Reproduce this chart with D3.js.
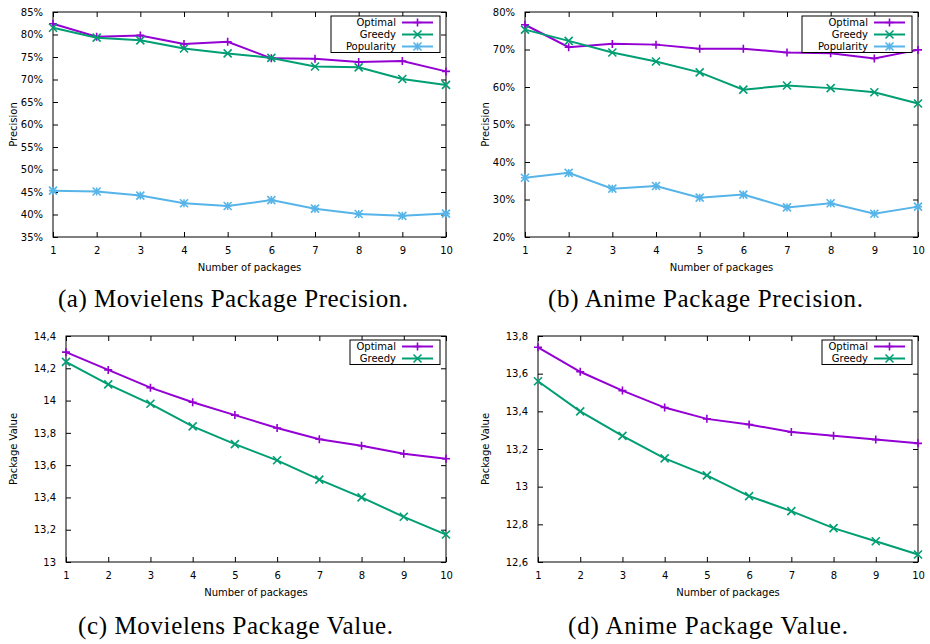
<!DOCTYPE html>
<html><head><meta charset="utf-8">
<script src="https://cdn.jsdelivr.net/npm/d3@7"></script>
<style>
body{margin:0;background:#fff;}
svg{display:block;}
</style></head>
<body>
<svg id="chart" width="930" height="644"></svg>
<script>
const packages = [1,2,3,4,5,6,7,8,9,10];

const movPrecOptimal    = [82.4,79.5,79.8,77.9,78.4,74.7,74.6,73.9,74.1,71.8];
const movPrecGreedy     = [81.5,79.3,78.7,76.9,75.8,74.8,72.9,72.7,70.1,68.8];
const movPrecPopularity = [45.3,45.1,44.2,42.5,41.9,43.2,41.3,40.1,39.7,40.2];

const aniPrecOptimal    = [76.6,70.6,71.5,71.3,70.2,70.2,69.2,69.0,67.6,69.9];
const aniPrecGreedy     = [75.3,72.3,69.2,66.8,63.9,59.3,60.4,59.7,58.6,55.6];
const aniPrecPopularity = [35.8,37.1,32.9,33.6,30.5,31.3,27.9,29.0,26.2,28.1];

const movValOptimal = [14.30,14.19,14.08,13.99,13.91,13.83,13.76,13.72,13.67,13.64];
const movValGreedy  = [14.24,14.10,13.98,13.84,13.73,13.63,13.51,13.40,13.28,13.17];

const aniValOptimal = [13.74,13.61,13.51,13.42,13.36,13.33,13.29,13.27,13.25,13.23];
const aniValGreedy  = [13.56,13.40,13.27,13.15,13.06,12.95,12.87,12.78,12.71,12.64];

const movPrecTicks = [35,40,45,50,55,60,65,70,75,80,85];
const aniPrecTicks = [20,30,40,50,60,70,80];
const movValTicks  = [13,13.2,13.4,13.6,13.8,14,14.2,14.4];
const aniValTicks  = [12.6,12.8,13,13.2,13.4,13.6,13.8];

const seriesNames = ["Optimal","Greedy","Popularity"];
const captions = ["(a) Movielens Package Precision.","(b) Anime Package Precision.","(c) Movielens Package Value.","(d) Anime Package Value."];

const colors = {Optimal:"#9400d3", Greedy:"#009e73", Popularity:"#56b4e9"};
const symbols = {Optimal:"plus", Greedy:"cross", Popularity:"star"};

const svg = d3.select("#chart");
const FONT = "DejaVu Sans, sans-serif";

function symPath(type, s){
  const p = `M${-s},0L${s},0M0,${-s}L0,${s}`;
  const x = `M${-s},${-s}L${s},${s}M${-s},${s}L${s},${-s}`;
  if(type==="plus") return p;
  if(type==="cross") return x;
  return p + x;
}

function panel(cfg){
  const g = svg.append("g");
  const x = d3.scaleLinear().domain([1,10]).range([cfg.left,cfg.right]);
  const y = d3.scaleLinear().domain([cfg.ticks[0], cfg.ticks[cfg.ticks.length-1]]).range([cfg.bottom,cfg.top]);
  const fmt = cfg.fmt;
  const tl = 5;
  const axL = d3.axisLeft(y).tickValues(cfg.ticks).tickSize(-tl).tickPadding(5+tl).tickFormat(fmt);
  const axR = d3.axisRight(y).tickValues(cfg.ticks).tickSize(-tl).tickFormat("");
  const axB = d3.axisBottom(x).tickValues(packages).tickSize(-tl).tickPadding(5+tl).tickFormat(d3.format("d"));
  const axT = d3.axisTop(x).tickValues(packages).tickSize(-tl).tickFormat("");
  const style = sel => { sel.selectAll(".domain").remove(); sel.selectAll("line").attr("stroke","#000");
    sel.selectAll("text").attr("font-family",FONT).attr("font-size",10).attr("fill","#000"); };
  g.append("g").attr("transform",`translate(${cfg.left},0)`).call(axL).call(style);
  g.append("g").attr("transform",`translate(${cfg.right},0)`).call(axR).call(style);
  g.append("g").attr("transform",`translate(0,${cfg.bottom})`).call(axB).call(style);
  g.append("g").attr("transform",`translate(0,${cfg.top})`).call(axT).call(style);
  g.append("rect").attr("x",cfg.left).attr("y",cfg.top).attr("width",cfg.right-cfg.left).attr("height",cfg.bottom-cfg.top)
    .attr("fill","none").attr("stroke","#000").attr("stroke-width",1);

  g.append("text").attr("x",(cfg.left+cfg.right)/2).attr("y",cfg.bottom+34).attr("text-anchor","middle")
    .attr("font-family",FONT).attr("font-size",10).text("Number of packages");
  g.append("text").attr("transform",`translate(${cfg.ylabX},${(cfg.top+cfg.bottom)/2}) rotate(-90)`)
    .attr("text-anchor","middle").attr("font-family",FONT).attr("font-size",10).text(cfg.ylabel);

  const line = d3.line().x((d,i)=>x(packages[i])).y(d=>y(d));
  cfg.series.forEach(s=>{
    g.append("path").datum(s.values).attr("d",line).attr("fill","none").attr("stroke",colors[s.name]).attr("stroke-width",2);
    g.selectAll(null).data(s.values).enter().append("path")
      .attr("transform",(d,i)=>`translate(${x(packages[i])},${y(d)})`)
      .attr("d",symPath(symbols[s.name],4)).attr("stroke",colors[s.name]).attr("stroke-width",1.6).attr("fill","none");
  });

  const lg = cfg.legend;
  const n = cfg.series.length;
  g.append("rect").attr("x",lg.x0).attr("y",lg.y0).attr("width",lg.x1-lg.x0).attr("height",12*n+0.5)
    .attr("fill","#fff").attr("stroke","#000").attr("stroke-width",1);
  cfg.series.forEach((s,i)=>{
    const cy = lg.y0 + 6.5 + 12*i;
    g.append("text").attr("x",lg.textX).attr("y",cy).attr("dy","0.35em").attr("text-anchor","end")
      .attr("font-family",FONT).attr("font-size",10).text(s.name);
    g.append("line").attr("x1",lg.textX+6).attr("x2",lg.textX+37).attr("y1",cy).attr("y2",cy)
      .attr("stroke",colors[s.name]).attr("stroke-width",2);
    g.append("path").attr("transform",`translate(${lg.textX+21.5},${cy})`).attr("d",symPath(symbols[s.name],4))
      .attr("stroke",colors[s.name]).attr("stroke-width",1.6).attr("fill","none");
  });
}

const pct = d => d + "%";
const comma = d => String(+d.toFixed(1)).replace(".", ",");

panel({left:53,right:446,top:12,bottom:237,ticks:movPrecTicks,fmt:pct,ylabel:"Precision",ylabX:17,
  series:[{name:"Optimal",values:movPrecOptimal},{name:"Greedy",values:movPrecGreedy},{name:"Popularity",values:movPrecPopularity}],
  legend:{x0:331,x1:440,y0:16,textX:396}});
panel({left:525,right:918,top:12,bottom:237,ticks:aniPrecTicks,fmt:pct,ylabel:"Precision",ylabX:489,
  series:[{name:"Optimal",values:aniPrecOptimal},{name:"Greedy",values:aniPrecGreedy},{name:"Popularity",values:aniPrecPopularity}],
  legend:{x0:802,x1:912,y0:16,textX:868}});
panel({left:66,right:446,top:336,bottom:562,ticks:movValTicks,fmt:comma,ylabel:"Package Value",ylabX:17,
  series:[{name:"Optimal",values:movValOptimal},{name:"Greedy",values:movValGreedy}],
  legend:{x0:350,x1:440,y0:340,textX:396}});
panel({left:538,right:918,top:336,bottom:562,ticks:aniValTicks,fmt:comma,ylabel:"Package Value",ylabX:489,
  series:[{name:"Optimal",values:aniValOptimal},{name:"Greedy",values:aniValGreedy}],
  legend:{x0:822,x1:912,y0:340,textX:868}});

// caption layout: [start x, baseline y, width]
const capLayout = [[58,307,350],[548,307,315],[78,634,315],[568,634,280]];
captions.forEach((c,i)=>{
  const [cx,cy,w] = capLayout[i];
  svg.append("text").attr("x",cx).attr("y",cy).attr("text-anchor","start")
    .attr("textLength",w).attr("lengthAdjust","spacing")
    .attr("font-family","Liberation Serif, serif").attr("font-size",25).attr("fill","#000").text(c);
});
</script>
</body></html>
